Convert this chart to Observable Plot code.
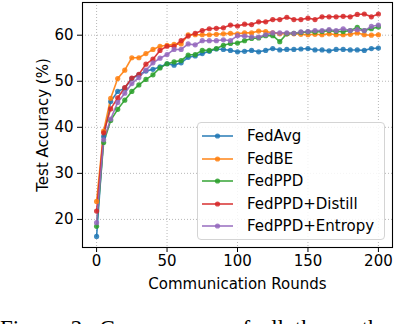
<!DOCTYPE html>
<html>
<head>
<meta charset="utf-8">
<script src="https://cdn.jsdelivr.net/npm/d3@7"></script>
<script src="https://cdn.jsdelivr.net/npm/@observablehq/plot@0.6"></script>
<style>
  html, body { margin: 0; padding: 0; background: #fff; }
  #wrap { position: relative; width: 394px; height: 324px; overflow: hidden; background: #fff; }
  #legend { position: absolute; left: 197px; top: 122px; width: 186px; height: 116px;
    border: 1px solid #d4d4d4; border-radius: 4px; background: rgba(255,255,255,0.85);
    font-family: "DejaVu Sans", sans-serif; font-size: 15px; color: #000; }
  .row { position: absolute; left: 0; height: 22px; width: 186px; }
  .row svg { position: absolute; left: 4px; top: 0; }
  .row span { position: absolute; left: 49px; top: 2px; line-height: 18px; white-space: nowrap; }
  #caption { position: absolute; left: 0; top: 317px; font-family: "Liberation Serif", "Times New Roman", serif;
    font-size: 23px; line-height: 23px; word-spacing: 5px; white-space: nowrap; color: #000; }
</style>
</head>
<body>
<div id="wrap"></div>
<script>
const rounds = [0,5,10,15,20,25,30,35,40,45,50,55,60,65,70,75,80,85,90,95,100,105,110,115,120,125,130,135,140,145,150,155,160,165,170,175,180,185,190,195,200];
const fedAvg = [16.3,38.0,45.6,47.8,48.5,50.6,51.4,52.2,52.6,53.1,53.8,53.5,54.0,55.2,55.5,56.0,56.5,57.0,56.9,56.7,56.4,56.5,56.7,56.4,56.7,57.1,56.8,56.9,56.9,57.0,57.1,56.8,56.8,56.6,56.9,56.9,56.8,56.8,56.7,57.1,57.2];
const fedBE = [23.9,39.2,46.3,50.6,52.4,55.1,55.1,56.0,56.9,57.6,57.8,58.0,58.1,60.1,60.1,60.1,60.1,60.2,60.3,60.4,60.3,60.5,60.5,60.9,60.8,60.5,60.3,60.3,60.3,60.2,60.1,60.2,60.1,60.3,60.1,60.1,60.2,60.5,60.1,60.0,60.1];
const fedPPD = [18.5,36.7,41.5,43.9,45.9,47.8,49.2,50.4,51.4,52.9,53.8,54.2,54.5,55.7,55.8,56.7,56.7,57.1,57.8,58.2,58.3,58.8,59.3,59.4,59.9,59.9,58.6,60.3,60.4,60.6,60.7,60.7,60.8,61.0,60.8,60.8,61.0,61.7,61.0,61.4,61.8];
const fedPPDDistill = [21.8,38.8,44.0,46.4,48.6,50.7,51.5,53.7,54.8,56.7,57.6,57.6,58.8,59.8,60.4,61.0,61.4,61.5,61.6,62.2,62.0,62.4,62.3,62.9,62.9,63.4,63.4,63.9,63.4,63.4,63.7,63.4,64.0,64.0,64.0,64.1,64.0,64.5,64.6,64.0,64.6];
const fedPPDEntropy = [19.3,37.3,41.8,45.4,47.4,49.5,50.8,52.4,54.0,55.0,55.8,56.9,56.9,58.1,57.9,58.8,58.8,58.8,59.0,58.8,59.9,59.8,59.6,59.6,60.1,60.5,60.5,60.5,60.4,60.7,60.8,61.0,61.0,61.2,61.0,61.4,61.0,61.2,61.0,61.9,62.2];

const methods = ["FedAvg", "FedBE", "FedPPD", "FedPPD+Distill", "FedPPD+Entropy"];
const colors = ["#1f77b4", "#ff7f0e", "#2ca02c", "#d62728", "#9467bd"];
const xTicks = [0, 50, 100, 150, 200];
const yTicks = [20, 30, 40, 50, 60];

const seriesValues = [fedAvg, fedBE, fedPPD, fedPPDDistill, fedPPDEntropy];
const data = [];
methods.forEach((m, i) => rounds.forEach((r, j) => data.push({method: m, round: r, acc: seriesValues[i][j]})));

const chart = Plot.plot({
  width: 394, height: 300,
  marginLeft: 82, marginRight: 2, marginTop: 2, marginBottom: 53,
  style: {fontFamily: "DejaVu Sans, sans-serif", fontSize: "15px", background: "white", color: "black"},
  x: {domain: [-10, 210]},
  y: {domain: [13.9, 67.1]},
  color: {domain: methods, range: colors},
  marks: [
    Plot.gridX(xTicks, {stroke: "#b0b0b0", strokeOpacity: 1, strokeWidth: 0.9, strokeDasharray: "1,2"}),
    Plot.gridY(yTicks, {stroke: "#b0b0b0", strokeOpacity: 1, strokeWidth: 0.9, strokeDasharray: "1,2"}),
    Plot.line(data, {x: "round", y: "acc", z: "method", stroke: "method", strokeWidth: 1.6, strokeOpacity: 0.9}),
    Plot.dot(data, {x: "round", y: "acc", fill: "method", r: 2.6, fillOpacity: 0.85, stroke: "none"}),
    Plot.frame({stroke: "#000", strokeWidth: 1.1}),
    Plot.axisX(xTicks, {tickSize: 5, tickPadding: 3, label: "Communication Rounds", labelAnchor: "center", labelOffset: 41, labelArrow: "none"}),
    Plot.axisY(yTicks, {tickSize: 5, tickPadding: 4, label: "Test Accuracy (%)", labelAnchor: "center", labelOffset: 45, labelArrow: "none"})
  ]
});

const wrap = document.getElementById("wrap");
wrap.appendChild(chart);

const legend = document.createElement("div");
legend.id = "legend";
methods.forEach((m, i) => {
  const row = document.createElement("div");
  row.className = "row";
  row.style.top = (2 + i * 22.6) + "px";
  row.innerHTML = `<svg width="32" height="22"><line x1="0" y1="11" x2="31" y2="11" stroke="${colors[i]}" stroke-width="1.6" stroke-opacity="0.9"/><circle cx="15.5" cy="11" r="2.6" fill="${colors[i]}" fill-opacity="0.85"/></svg><span>${m}</span>`;
  legend.appendChild(row);
});
wrap.appendChild(legend);

const caption = document.createElement("div");
caption.id = "caption";
caption.textContent = "Figure 2: Convergence of all the methods";
wrap.appendChild(caption);
</script>
</body>
</html>
